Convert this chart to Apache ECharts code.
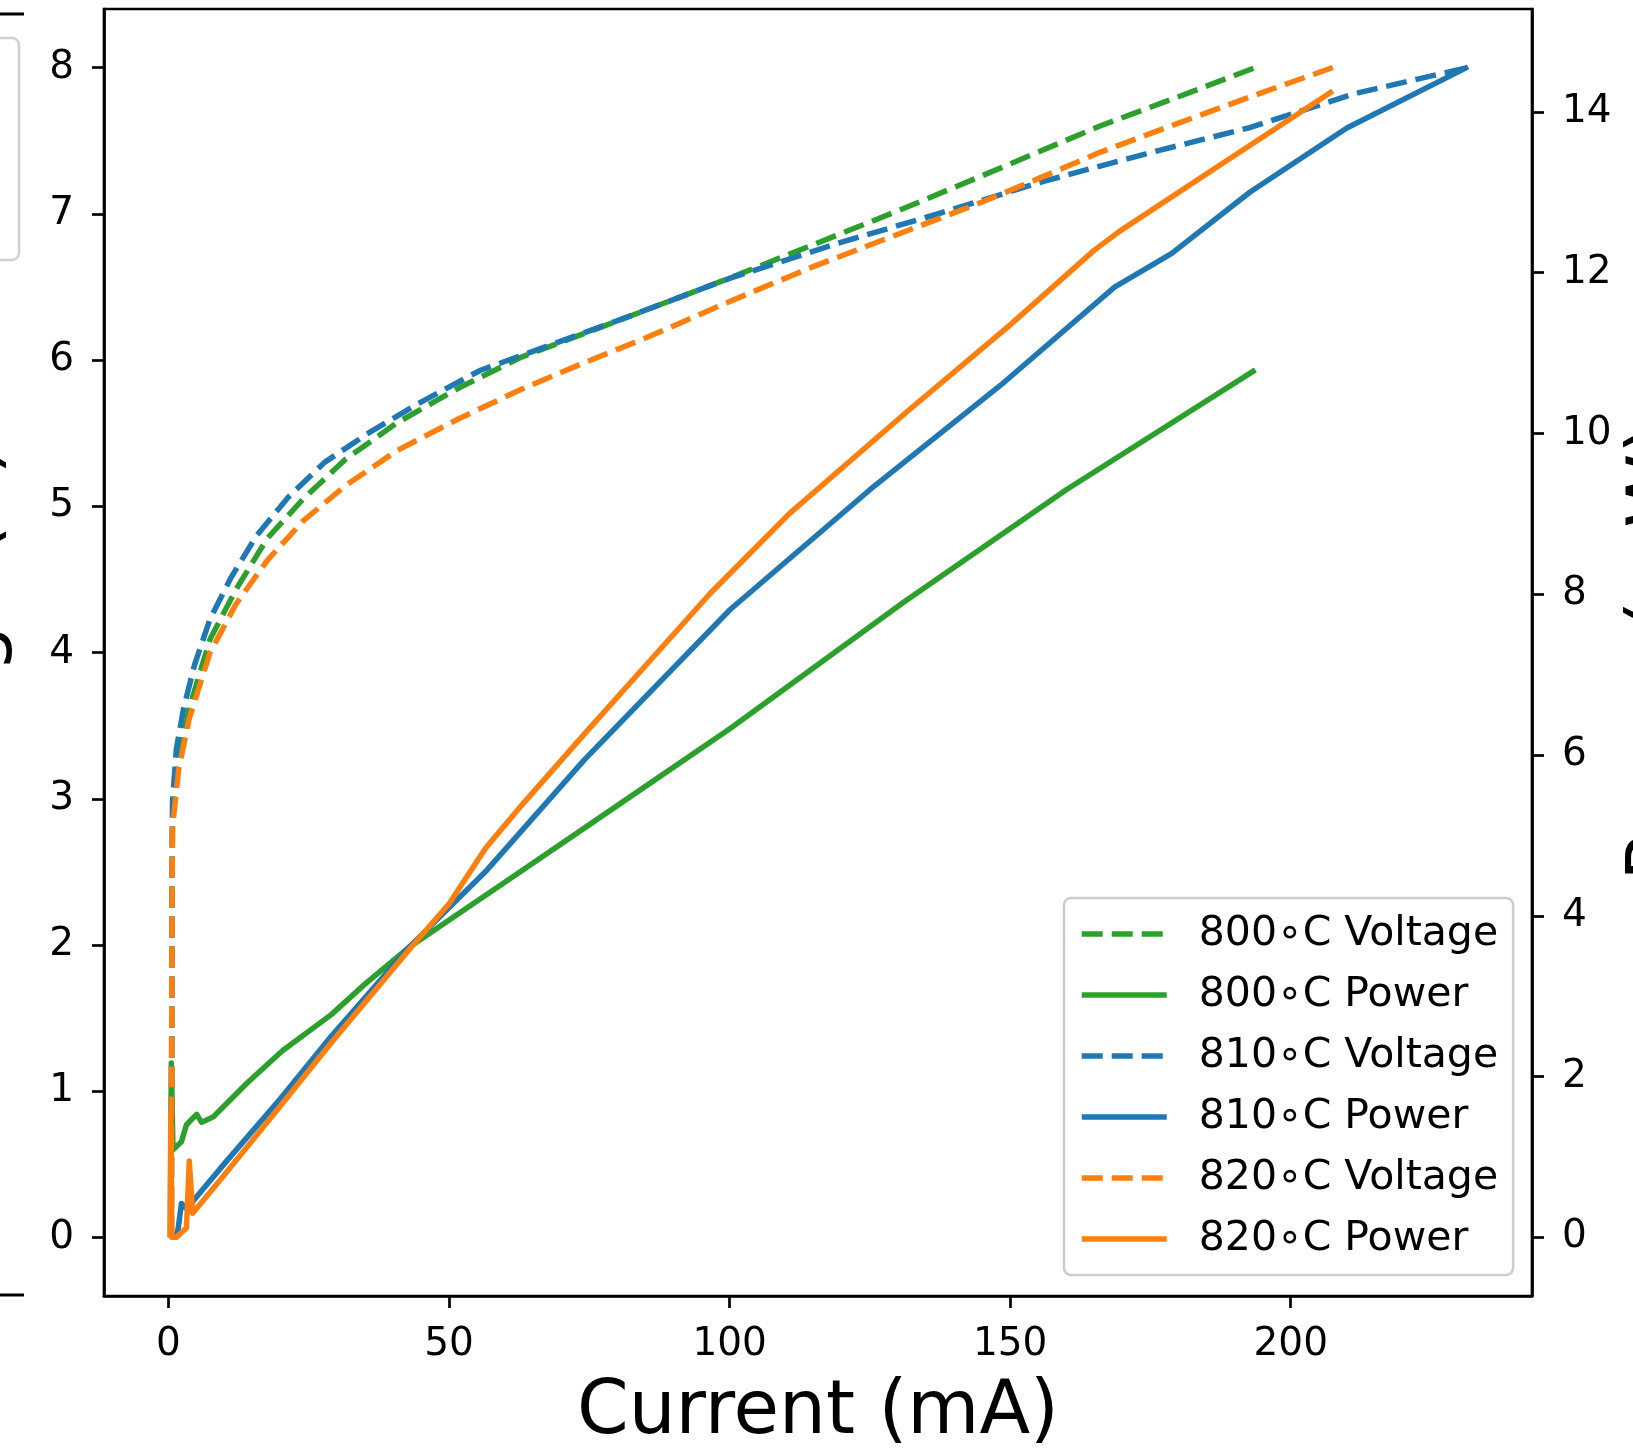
<!DOCTYPE html>
<html><head><meta charset="utf-8">
<script src="https://cdn.jsdelivr.net/npm/echarts@6/dist/echarts.min.js"></script>
<style>html,body{margin:0;padding:0;background:#fff}#c{width:1633px;height:1450px}</style>
</head><body><div id="c"></div>
<script>
const xTicks = [0, 50, 100, 150, 200];
const leftTicks = [0, 1, 2, 3, 4, 5, 6, 7, 8];
const rightTicks = [0, 2, 4, 6, 8, 10, 12, 14];
const names = ['800∘C Voltage', '800∘C Power', '810∘C Voltage', '810∘C Power', '820∘C Voltage', '820∘C Power'];

const v800 = [[0.5,0],[0.6,2.0],[0.7,2.85],[1.8,3.27],[3.7,3.62],[7.4,4.09],[12,4.43],[17.6,4.78],[24,5.05],[31.5,5.32],[40.7,5.57],[51.8,5.81],[62.9,6.02],[74,6.18],[85,6.34],[100,6.56],[115,6.79],[130,7.02],[145,7.26],[166,7.6],[180,7.8],[193.7,8.0]];
const p800 = [[0.3,0],[0.5,2.17],[0.8,1.09],[1.4,1.13],[2.3,1.19],[3.2,1.40],[5.0,1.53],[5.9,1.43],[8.0,1.50],[14,1.92],[20.3,2.32],[29,2.77],[35,3.15],[42.9,3.61],[60,4.42],[74.1,5.09],[100.1,6.33],[131,7.9],[160,9.3],[193.7,10.79]];
const v810 = [[0.5,0],[0.6,2.0],[0.7,2.98],[1.4,3.34],[2.7,3.62],[4.6,3.91],[7.4,4.23],[11.1,4.51],[15.7,4.80],[21.3,5.06],[27.8,5.30],[35.2,5.49],[44.4,5.70],[55.6,5.93],[68.6,6.11],[81.5,6.29],[100.1,6.56],[118.6,6.79],[137.2,7.0],[155.8,7.22],[174.2,7.41],[192.8,7.59],[211.3,7.82],[231.6,8.0]];
const p810 = [[0.4,0],[1.3,0],[1.7,0.1],[2.3,0.42],[3.3,0.35],[4.6,0.47],[10,0.92],[20,1.73],[29,2.5],[42.9,3.61],[56.5,4.55],[74.1,5.94],[100.1,7.81],[125,9.3],[148.3,10.6],[168.6,11.82],[178.8,12.24],[192.7,13.0],[210,13.8],[231.6,14.56]];
const v820 = [[0.5,0],[0.6,2.0],[0.7,2.8],[1.8,3.2],[3.7,3.55],[7.4,4.0],[12,4.33],[17.6,4.63],[24,4.9],[31.5,5.14],[40.7,5.38],[51.8,5.6],[62.9,5.8],[74,5.98],[85,6.15],[100,6.40],[115,6.64],[130,6.86],[145,7.08],[155,7.24],[166,7.42],[180,7.62],[195,7.83],[207.5,8.0]];
const p820 = [[0.3,0],[0.4,1.55],[0.6,0],[1.4,0],[3.2,0.12],[3.7,0.95],[4.3,0.3],[10,0.78],[20,1.64],[29,2.42],[42.9,3.58],[50,4.15],[56.5,4.84],[63,5.38],[74.1,6.26],[85,7.11],[96.4,8.0],[110.6,9.0],[131.6,10.27],[150,11.35],[165,12.28],[169.6,12.52],[187,13.32],[207.5,14.26]];

const colors = {g:'#2ca02c', b:'#1f77b4', o:'#ff7f0e'};
const FONT = 'DejaVu Sans';
const dash = [21, 9];
const LW = 5.5;

function mk(name, data, color, dashed, yIdx) {
  return {
    name: name, type: 'line', data: data, yAxisIndex: yIdx,
    symbol: 'none', showSymbol: false, smooth: false, animation: false,
    lineStyle: {color: color, width: LW, type: dashed ? dash : 'solid', cap: 'butt', join: 'round'},
    itemStyle: {color: color}
  };
}

const axisCommon = {
  axisLine: {show: true, onZero: false, lineStyle: {color: '#000', width: 2.7}},
  splitLine: {show: false}
};

const chart = echarts.init(document.getElementById('c'), null, {renderer: 'canvas'});
chart.setOption({
  backgroundColor: '#fff',
  animation: false,
  grid: {left: 104, right: 101, top: 9, bottom: 154, outerBoundsMode: 'none', containLabel: false,
         show: true, borderColor: '#000', borderWidth: 2.7, backgroundColor: 'transparent'},
  xAxis: Object.assign({}, axisCommon, {
    type: 'value', min: -11.5, max: 243,
    axisTick: {show: true, length: 12, customValues: xTicks, lineStyle: {color: '#000', width: 2.7}},
    axisLabel: {customValues: xTicks, fontSize: 39, fontFamily: FONT, color: '#000', margin: 29},
    name: 'Current (mA)', nameLocation: 'middle', nameGap: 81,
    nameTextStyle: {fontSize: 74, fontFamily: FONT, color: '#000'}
  }),
  yAxis: [
    Object.assign({}, axisCommon, {
      type: 'value', position: 'left', min: -0.4, max: 8.4,
      axisTick: {show: true, length: 12, customValues: leftTicks, lineStyle: {color: '#000', width: 2.7}},
      axisLabel: {customValues: leftTicks, fontSize: 39, fontFamily: FONT, color: '#000', margin: 30},
      name: 'Voltage (V)', nameLocation: 'middle', nameRotate: 90, nameGap: 90,
      nameTextStyle: {fontSize: 75, fontFamily: FONT, color: '#000'}
    }),
    Object.assign({}, axisCommon, {
      type: 'value', position: 'right', min: -0.73, max: 15.28,
      axisTick: {show: true, length: 12, customValues: rightTicks, lineStyle: {color: '#000', width: 2.7}},
      axisLabel: {customValues: rightTicks, fontSize: 39, fontFamily: FONT, color: '#000', margin: 30},
      name: 'Power (mW)', nameLocation: 'middle', nameRotate: 90, nameGap: 88,
      nameTextStyle: {fontSize: 75, fontFamily: FONT, color: '#000'}
    })
  ],
  legend: {
    orient: 'vertical', left: 1064, top: 898,
    itemWidth: 85, itemHeight: 42, itemGap: 19,
    padding: [15, 15, 15, 15],
    backgroundColor: 'rgba(255,255,255,0.85)', borderColor: '#cccccc', borderWidth: 2.5, borderRadius: 7,
    itemStyle: {opacity: 0, borderWidth: 0},
    lineStyle: {width: LW},
    textStyle: {fontSize: 41, fontFamily: FONT, color: '#000', lineHeight: 42, padding: [0, 0, 0, 27]},
    data: names
  },
  graphic: [
    {type: 'line', shape: {x1: 0, y1: 14, x2: 24, y2: 14}, style: {stroke: '#000', lineWidth: 3}, silent: true},
    {type: 'line', shape: {x1: 0, y1: 1295, x2: 24, y2: 1295}, style: {stroke: '#000', lineWidth: 3}, silent: true},
    {type: 'rect', shape: {x: -300, y: 38, width: 319, height: 222, r: 7}, style: {fill: 'none', stroke: '#d0d0d0', lineWidth: 2.5}, silent: true}
  ],
  series: [
    mk(names[0], v800, colors.g, true, 0),
    mk(names[1], p800, colors.g, false, 1),
    mk(names[2], v810, colors.b, true, 0),
    mk(names[3], p810, colors.b, false, 1),
    mk(names[4], v820, colors.o, true, 0),
    mk(names[5], p820, colors.o, false, 1)
  ]
});
</script></body></html>
